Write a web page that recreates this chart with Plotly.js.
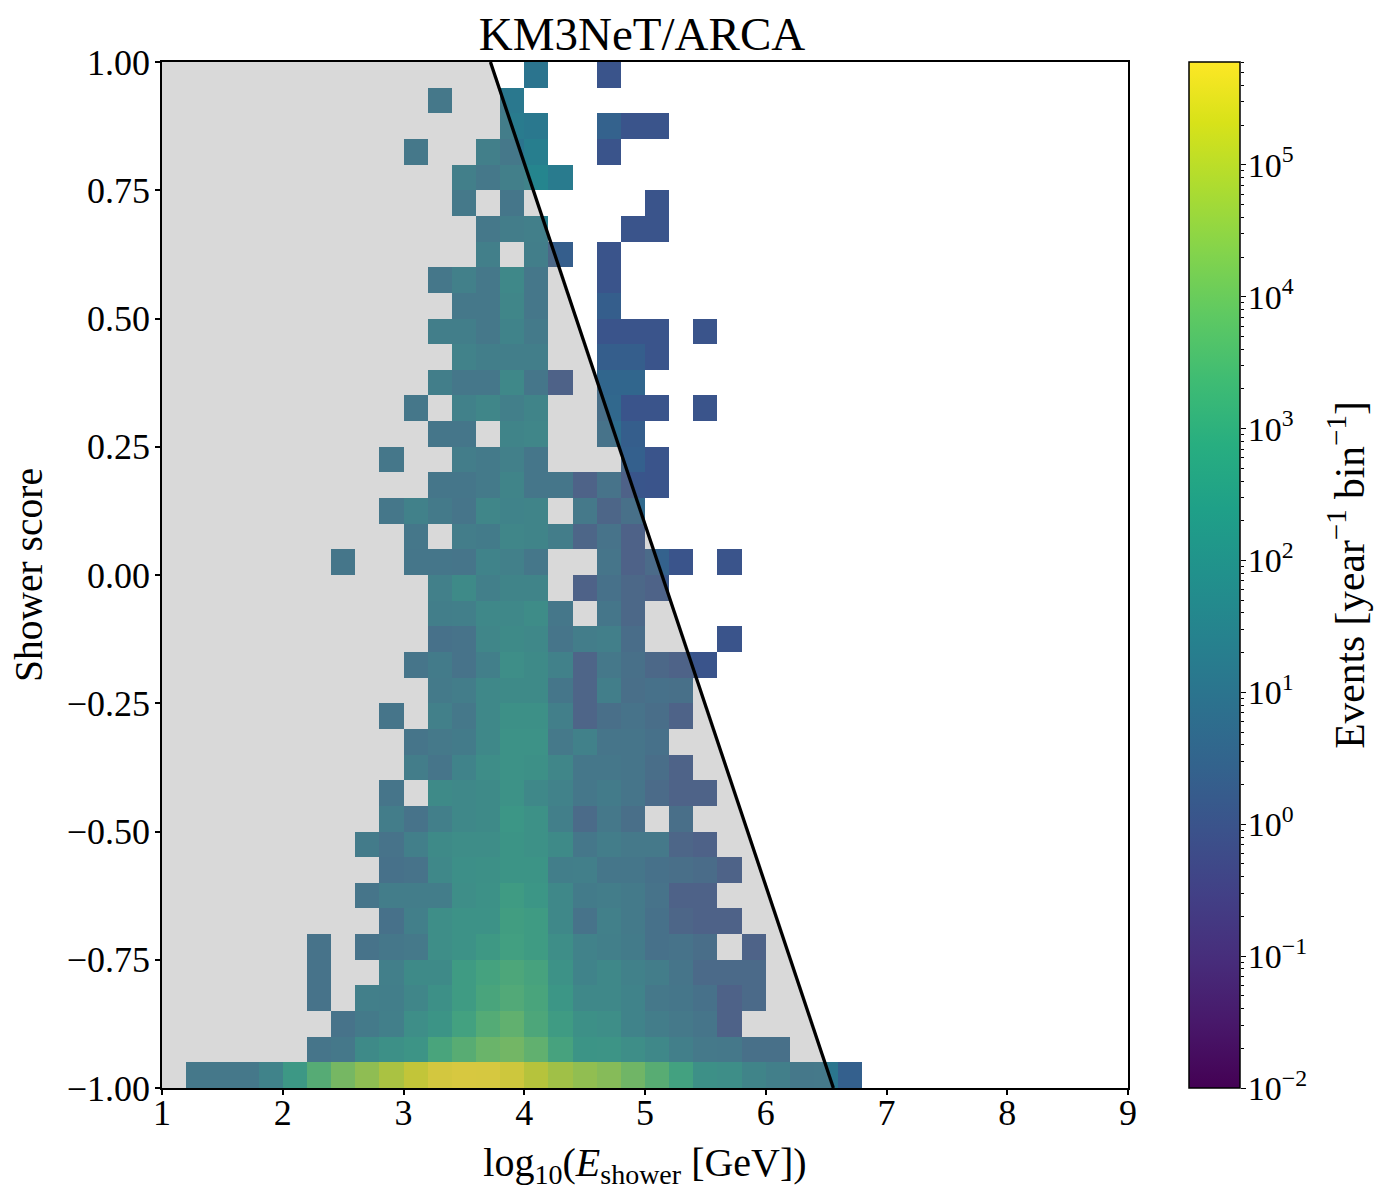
<!DOCTYPE html>
<html><head><meta charset="utf-8">
<script src="https://cdn.plot.ly/plotly-3.0.1.min.js"></script>
<style>html,body{margin:0;padding:0;background:#fff}</style></head>
<body><div id="chart" style="width:1400px;height:1200px"></div>
<script>
// log10(events per year per bin). Each row: first occupied energy bin, then values (null = empty bin).
const rowsBottomUp = [
 [1,[1.0,1.0,1.0,1.5,2.45,3.45,4.1,4.55,5.0,5.4,5.7,5.78,5.75,5.6,5.2,4.85,4.6,4.4,4.0,3.5,2.9,2.1,2.0,1.55,1.3,1.0,1.05,0.35]],
 [6,[0.85,1.0,1.8,2.1,2.25,3.1,3.5,3.9,4.05,3.7,3.0,2.3,2.25,2.0,1.7,1.3,1.05,1.0,0.65,0.65]],
 [7,[0.75,1.1,1.3,2.0,2.3,2.9,3.4,3.7,3.2,2.6,2.1,2.0,1.5,1.2,1.05,0.85,0.05]],
 [6,[0.8,null,1.3,1.25,1.6,2.1,2.6,3.1,3.35,3.1,2.4,1.75,1.75,1.5,1.0,0.9,0.7,0.05,0.35]],
 [6,[0.8,null,null,1.3,1.8,1.85,2.6,2.95,3.2,3.0,2.2,1.5,1.7,1.4,1.2,0.85,0.35,0.35,0.35]],
 [6,[0.8,null,0.8,0.95,1.05,2.0,2.2,2.5,2.85,2.6,2.0,1.45,1.3,1.15,0.7,0.75,0.55,null,0.1]],
 [9,[0.7,1.3,2.0,2.2,2.2,2.75,2.6,1.7,0.8,1.35,1.1,0.7,0.2,0.05,0.05]],
 [8,[0.85,1.2,1.2,1.2,2.0,2.15,2.6,2.4,1.75,1.15,1.2,1.1,0.8,0.05,0.05]],
 [9,[0.7,0.75,1.75,2.05,2.1,2.3,2.3,1.25,1.3,0.9,0.9,0.7,0.6,0.45,0.1]],
 [8,[1.15,0.75,1.3,1.85,1.95,1.95,2.3,2.15,1.8,0.95,1.2,1.05,1.05,0.2,0.05]],
 [9,[1.2,0.75,1.3,1.75,1.85,2.35,2.15,1.3,0.4,1.0,0.6,null,0.6]],
 [9,[0.85,null,1.85,1.75,1.8,2.2,1.75,1.45,0.95,1.15,0.85,0.4,0.1,0.1]],
 [10,[1.2,0.85,1.5,1.95,2.2,2.1,1.65,0.95,0.95,0.85,0.55,0.1]],
 [10,[0.85,1.05,1.15,1.7,2.2,2.2,1.05,1.4,0.85,0.85,0.7]],
 [9,[0.85,null,1.35,1.0,1.7,2.1,2.1,1.3,0.15,0.6,0.8,0.55,0.1]],
 [11,[1.1,1.2,1.7,1.85,1.85,0.9,0.15,1.25,0.6,0.7,0.65]],
 [10,[0.85,1.15,0.8,1.3,2.0,1.85,1.4,0.15,1.0,0.65,0.3,0.1,0.0]],
 [11,[0.7,0.75,1.65,1.8,1.75,0.85,1.2,1.3,0.5,null,null,null,0.0]],
 [11,[1.25,1.3,1.75,1.75,1.9,0.95,null,0.9,0.3]],
 [11,[1.35,1.8,1.3,1.55,1.55,null,0.05,0.7,0.3,0.1]],
 [7,[0.9,null,null,0.9,0.9,0.85,1.5,1.35,0.95,null,null,0.85,0.05,0.4,0.0,null,0.0]],
 [10,[0.95,null,1.2,1.15,1.65,1.55,1.2,0.2,0.8,0.05]],
 [9,[0.95,1.4,1.1,0.85,1.6,1.5,1.55,null,1.05,0.2,0.65]],
 [11,[0.9,0.9,1.1,1.55,0.9,0.9,0.1,0.8,0.05,0.0]],
 [9,[0.95,null,null,1.2,1.1,1.35,0.9,null,null,null,0.35,0.0]],
 [11,[0.9,0.9,null,1.55,1.6,null,null,0.8,0.3]],
 [10,[0.95,null,1.4,1.65,1.3,1.55,null,null,0.6,0.0,0.0,null,0.0]],
 [11,[1.25,0.95,0.95,1.7,0.9,0.05,null,0.55,0.55]],
 [12,[1.45,1.25,1.25,1.25,null,null,0.3,0.3,0.0]],
 [11,[1.25,1.25,1.0,1.5,1.1,null,null,0.0,0.0,0.0,null,0.0]],
 [12,[1.0,1.0,1.6,0.95,null,null,0.3]],
 [11,[0.95,1.35,1.0,1.7,0.95,null,null,0.0]],
 [13,[1.3,null,1.25,0.3,null,0.0]],
 [13,[1.0,1.2,1.3,null,null,null,0.0,0.0]],
 [12,[1.05,null,0.9,null,null,null,null,null,0.0]],
 [12,[1.3,1.0,1.3,1.5,1.2]],
 [10,[1.0,null,null,1.3,1.0,1.3,null,null,0.0]],
 [14,[1.2,1.1,null,null,0.4,0.0,0.0]],
 [11,[1.0,null,null,1.1]],
 [15,[1.0,null,null,0.0]]
];
const cutLineX = [3.72, 6.56];
const cutLineY = [1, -1];
const cutRegionX = [1, 3.72, 6.56, 1];
const cutRegionY = [1, 1, -1, -1];
const xTicks = [1,2,3,4,5,6,7,8,9];
const yTicks = [-1,-0.75,-0.5,-0.25,0,0.25,0.5,0.75,1];
const cbarTicks = [0.01,0.1,1,10,100,1000,10000,100000];
const cbarLabels = ['10<sup>\u22122</sup>','10<sup>\u22121</sup>','10<sup>0</sup>','10<sup>1</sup>','10<sup>2</sup>','10<sup>3</sup>','10<sup>4</sup>','10<sup>5</sup>'];
const nBins = 40;

const z = rowsBottomUp.map(([start, vals]) => {
  const row = new Array(nBins).fill(null);
  vals.forEach((v, i) => { row[start + i] = v; });
  return row;
});

const serif = '"Liberation Serif", "DejaVu Serif", serif';
const W = 1400;
const traces = [
  {type:'heatmap', z, x0:1.1, dx:0.2, y0:-0.975, dy:0.05, colorscale:'Viridis', zmin:-2, zmax:5.78,
   hoverongaps:false,
   colorbar:{x:1189/W, xref:'paper', xanchor:'left', xpad:0, ypad:0, y:0.5, yanchor:'middle', len:1, lenmode:'fraction',
     thickness:51, thicknessmode:'pixels', outlinewidth:1.5, outlinecolor:'#000',
     ticks:'', showticklabels:false}},
  {type:'scatter', mode:'lines', x:cutRegionX, y:cutRegionY, fill:'toself', fillcolor:'rgba(128,128,128,0.3)', line:{width:0}, hoverinfo:'skip', showlegend:false},
  {type:'scatter', mode:'lines', x:cutLineX, y:cutLineY, line:{color:'#000', width:3.3}, hoverinfo:'skip', showlegend:false},
  {type:'scatter', mode:'markers', x:[0], y:[1], xaxis:'x2', yaxis:'y2', marker:{size:1, opacity:0}, hoverinfo:'skip', showlegend:false}
];
const axisCommon = {showgrid:false, zeroline:false, showline:true, linecolor:'#000', linewidth:1.5, mirror:true,
  ticks:'outside', ticklen:5, tickwidth:1.5, tickcolor:'#000', tickfont:{family:serif, size:36, color:'#000'}};
const layout = {
  width:1400, height:1200, paper_bgcolor:'#fff', plot_bgcolor:'#fff', showlegend:false,
  margin:{l:0, r:0, t:62, b:112, autoexpand:false},
  title:{text:'KM3NeT/ARCA', x:642/W, xref:'paper', xanchor:'center', y:0.972, yref:'container', yanchor:'middle', font:{family:serif, size:47, color:'#000'}},
  xaxis:Object.assign({}, axisCommon, {domain:[162/W,1128/W], range:[1,9], tickmode:'array', tickvals:xTicks, ticktext:xTicks.map(String), anchor:'y', ticklabelstandoff:-13,
    title:{text:'log<sub>10</sub>(<i>E</i><sub>shower</sub> [GeV])', standoff:16, font:{family:serif, size:40, color:'#000'}}}),
  yaxis:Object.assign({}, axisCommon, {range:[-1,1], tickmode:'array', tickvals:yTicks, tickformat:'.2f', anchor:'x', ticklabelstandoff:-2,
    title:{text:'Shower score', standoff:12, font:{family:serif, size:39.5, color:'#000'}}}),
  xaxis2:{domain:[1189/W,1240/W], range:[0,1], visible:false, anchor:'y2', fixedrange:true},
  yaxis2:{type:'log', range:[-2,5.78], anchor:'x2', side:'right', showgrid:false, zeroline:false, showline:false,
    tickmode:'array', tickvals:cbarTicks, ticktext:cbarLabels, ticks:'outside', ticklen:5, tickwidth:1.3, tickcolor:'#000', ticklabelstandoff:-5,
    tickfont:{family:serif, size:34, color:'#000'},
    minor:{ticks:'outside', ticklen:2.5, tickwidth:1, tickcolor:'#000', dtick:'D1', showgrid:false}, fixedrange:true,
    title:{text:'Events [year<sup>\u22121</sup> bin<sup>\u22121</sup>]', standoff:28, font:{family:serif, size:41.5, color:'#000'}}}
};
Plotly.newPlot('chart', traces, layout, {displayModeBar:false, responsive:false});
</script></body></html>
